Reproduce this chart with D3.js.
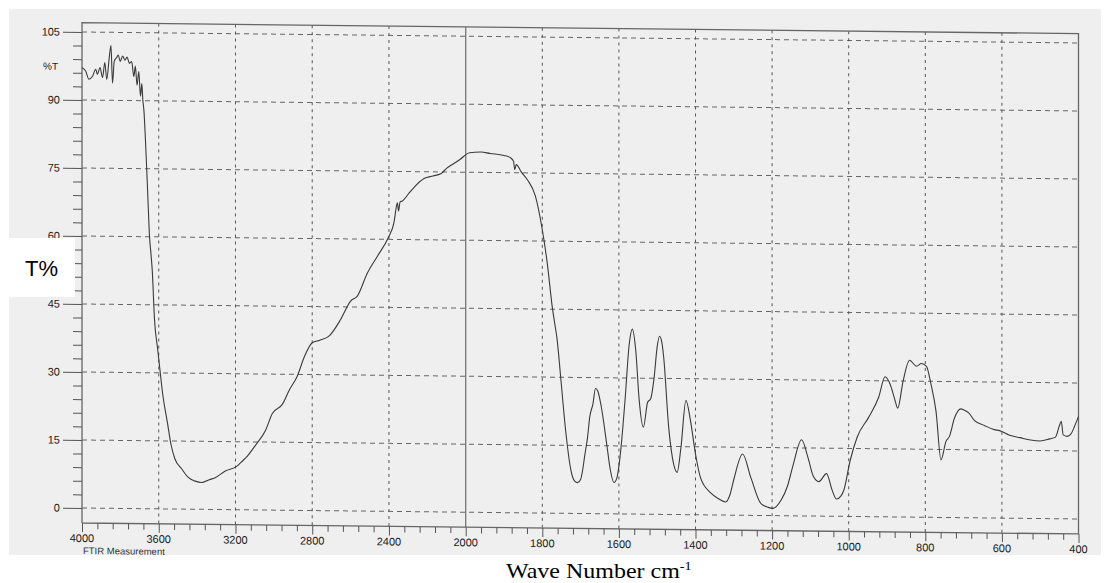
<!DOCTYPE html>
<html>
<head>
<meta charset="utf-8">
<script src="https://cdn.jsdelivr.net/npm/d3@7"></script>
<style>
  body { margin: 0; background: #fff; }
</style>
</head>
<body>
<script>
// FTIR spectrum (wavenumber cm-1, %T)
var wavenumbers = [
  4000, 3981, 3964, 3946, 3928, 3920, 3906, 3893, 3881, 3871, 3858, 3849, 3841, 3832, 3820, 3811,
  3801, 3788, 3776, 3765, 3753, 3741, 3730, 3722, 3713, 3704, 3695, 3688, 3683, 3677, 3670, 3665,
  3656, 3648, 3640, 3634, 3622, 3605, 3592, 3578, 3555, 3535, 3516, 3481, 3446, 3410, 3376, 3340,
  3306, 3253, 3192, 3170, 3139, 3095, 3043, 3008, 2955, 2920, 2878, 2840, 2800, 2760, 2713, 2652,
  2600, 2565, 2513, 2461, 2400, 2374, 2360, 2356, 2350, 2342, 2330, 2300, 2270, 2217, 2170, 2130,
  2100, 2065, 2030, 1990, 1960, 1936, 1900, 1883, 1875, 1872, 1868, 1855, 1839, 1818, 1800, 1787,
  1774, 1765, 1762, 1752, 1739, 1725, 1716, 1708, 1700, 1695, 1689, 1682, 1676, 1668, 1661, 1655,
  1646, 1632, 1622, 1613, 1605, 1597, 1584, 1573, 1565, 1556, 1547, 1536, 1525, 1517, 1508, 1500,
  1494, 1488, 1483, 1470, 1457, 1448, 1438, 1425, 1413, 1400, 1387, 1361, 1340, 1321, 1310, 1299,
  1277, 1255, 1229, 1210, 1198, 1176, 1160, 1146, 1123, 1107, 1092, 1078, 1058, 1043, 1032, 1020,
  1013, 996, 978, 948, 922, 905, 892, 880, 872, 858, 841, 823, 810, 797, 785, 772,
  759, 746, 737, 724, 707, 700, 686, 672, 646, 620, 606, 580, 553, 525, 500, 475,
  460, 450, 445, 440, 430, 420, 410, 400
]
var transmittance = [
  97.1, 96.4, 94.6, 95.2, 96.8, 95.7, 97.2, 95.0, 98.3, 94.6, 99.4, 102.1, 93.8, 98.6, 99.4, 100.0,
  98.6, 99.8, 98.9, 99.6, 98.2, 98.6, 95.3, 97.6, 93.4, 96.4, 91.0, 93.8, 90.2, 87.7, 82.0, 77.2,
  68.0, 60.0, 56.0, 52.7, 41.7, 35.0, 30.0, 24.9, 19.1, 14.0, 11.1, 8.9, 7.0, 6.2, 5.9, 6.5,
  7.0, 8.5, 9.6, 10.5, 11.8, 14.3, 17.6, 21.3, 23.4, 26.5, 29.6, 34.0, 37.0, 37.6, 38.5, 42.2,
  46.3, 47.4, 52.5, 56.2, 60.7, 63.7, 67.5, 68.1, 66.3, 68.3, 68.5, 70.0, 71.5, 73.5, 74.1, 74.6,
  75.8, 76.8, 77.8, 79.3, 79.5, 79.2, 78.8, 78.3, 77.5, 75.7, 76.8, 75.2, 73.5, 69.9, 62.5, 55.1,
  45.5, 40.5, 38.8, 30.0, 18.2, 9.4, 7.2, 6.8, 7.5, 9.4, 12.9, 16.7, 21.4, 24.1, 27.6, 27.0,
  23.6, 15.5, 9.5, 6.9, 8.0, 12.6, 25.1, 37.5, 40.8, 36.1, 25.1, 19.2, 24.7, 25.5, 30.2, 37.0,
  39.3, 38.0, 34.6, 19.2, 11.1, 9.3, 14.8, 25.2, 20.7, 13.4, 8.2, 4.9, 3.6, 2.9, 4.5, 8.2,
  13.5, 8.2, 2.6, 1.8, 1.6, 3.5, 6.5, 10.9, 16.8, 13.1, 8.7, 7.6, 9.4, 5.7, 3.8, 4.5,
  5.7, 12.4, 17.5, 21.9, 26.3, 30.9, 29.3, 26.0, 24.0, 30.0, 34.6, 33.3, 33.9, 33.3, 29.3, 23.4,
  12.7, 16.8, 17.9, 21.9, 24.0, 23.8, 23.1, 21.5, 20.4, 19.5, 19.3, 18.3, 17.8, 17.3, 17.1, 17.6,
  18.0, 20.5, 21.5, 18.5, 18.2, 18.7, 20.5, 22.6
]
var yTicks = [0, 15, 30, 45, 60, 75, 90, 105]
var xTicks = [4000, 3600, 3200, 2800, 2400, 2000, 1800, 1600, 1400, 1200, 1000, 800, 600, 400]
var xGrid = [3600, 3200, 2800, 2400, 1800, 1600, 1400, 1200, 1000, 800, 600]

var plotLeft = 82, plotRight = 1078.5, plotTop = 22.7, plotBottom = 523

// chart paper changes scale at 2000 cm-1
var x = d3.scaleLinear().domain([4000, 2000, 400]).range([plotLeft, 465.7, plotRight])
var y = d3.scaleLinear().domain([0, 105]).range([508, 32])

function createSVG() {
  mainSVG = d3.select('body').append('svg').attr('width', 1107).attr('height', 583)
  mainSVG.append('rect')
    .attr('x', 9).attr('y', 9).attr('width', 1092).attr('height', 546)
    .attr('fill', '#efefef')
  // the scan is slightly tilted
  chart = mainSVG.append('g').attr('transform', 'matrix(1,0.011,0,1,0,' + (-0.011 * plotLeft) + ')')
}

function createGrid() {
  chart.selectAll('line.hgrid').data(yTicks).enter().append('line')
    .attr('class', 'hgrid')
    .attr('x1', plotLeft).attr('x2', plotRight)
    .attr('y1', function(d) { return y(d) }).attr('y2', function(d) { return y(d) })
    .attr('stroke', '#666').attr('stroke-width', 1).attr('stroke-dasharray', '5,4')

  chart.selectAll('line.vgrid').data(xGrid).enter().append('line')
    .attr('class', 'vgrid')
    .attr('x1', function(d) { return x(d) }).attr('x2', function(d) { return x(d) })
    .attr('y1', plotTop).attr('y2', plotBottom)
    .attr('stroke', '#555').attr('stroke-width', 1).attr('stroke-dasharray', '3,4')

  chart.append('line')
    .attr('x1', x(2000)).attr('x2', x(2000)).attr('y1', plotTop).attr('y2', plotBottom)
    .attr('stroke', '#777').attr('stroke-width', 1.3)
}

function createFrame() {
  chart.append('path')
    .attr('d', 'M' + plotLeft + ',' + plotBottom + 'V' + plotTop + 'H' + plotRight + 'V' + plotBottom + 'H' + plotLeft)
    .attr('fill', 'none').attr('stroke', '#666').attr('stroke-width', 1.3)
}

function createAxes() {
  var yAxis = d3.axisLeft(y)
    .tickValues(d3.range(0, 106, 3))
    .tickSize(9)
    .tickFormat('')
  var gy = chart.append('g').attr('transform', 'translate(' + plotLeft + ',0)').call(yAxis)
  gy.select('.domain').remove()
  gy.selectAll('.tick line').attr('stroke', '#555')
    .attr('x2', function(d) { return d % 15 === 0 ? -19 : -9 })

  chart.selectAll('text.ylab').data(yTicks).enter().append('text')
    .attr('class', 'ylab')
    .attr('x', 60).attr('y', function(d) { return y(d) })
    .attr('dy', '0.35em').attr('text-anchor', 'end')
    .attr('font-family', 'Liberation Sans, Arial, sans-serif').attr('font-size', 11)
    .attr('fill', '#222')
    .text(function(d) { return d })

  chart.append('text')
    .attr('x', 43).attr('y', 70)
    .attr('font-family', 'Liberation Sans, Arial, sans-serif').attr('font-size', 10)
    .attr('fill', '#222').text('%T')

  var minor = d3.range(4000, 2000, -80).concat(d3.range(2000, 399, -40))
  var xAxis = d3.axisBottom(x).tickValues(minor).tickSize(8).tickFormat('')
  var gx = chart.append('g').attr('transform', 'translate(0,' + plotBottom + ')').call(xAxis)
  gx.select('.domain').remove()
  gx.selectAll('.tick line').attr('stroke', '#555')
    .attr('y2', function(d) { return xTicks.indexOf(d) >= 0 ? 9 : 6 })

  chart.selectAll('text.xlab').data(xTicks).enter().append('text')
    .attr('class', 'xlab')
    .attr('x', function(d) { return x(d) }).attr('y', plotBottom + 19)
    .attr('text-anchor', 'middle')
    .attr('font-family', 'Liberation Sans, Arial, sans-serif').attr('font-size', 11)
    .attr('fill', '#222')
    .text(function(d) { return d })

  chart.append('text')
    .attr('x', 83).attr('y', 554)
    .attr('font-family', 'Liberation Sans, Arial, sans-serif').attr('font-size', 9.5)
    .attr('fill', '#333').text('FTIR Measurement')
}

function createSpectrum() {
  var pts = wavenumbers.map(function(w, i) { return [w, transmittance[i]] })
  var line = d3.line()
    .x(function(d) { return x(d[0]) })
    .y(function(d) { return y(d[1]) })
    .curve(d3.curveMonotoneX)
  chart.append('path')
    .datum(pts)
    .attr('d', line)
    .attr('fill', 'none')
    .attr('stroke', '#3a3a3a')
    .attr('stroke-width', 1.1)
}

function createLabels() {
  mainSVG.append('rect')
    .attr('x', 8).attr('y', 238).attr('width', 67).attr('height', 59)
    .attr('fill', '#fff')
  mainSVG.append('text')
    .attr('x', 25).attr('y', 276)
    .attr('font-family', 'Liberation Sans, Arial, sans-serif').attr('font-size', 22)
    .attr('fill', '#000').text('T%')

  var t = mainSVG.append('text')
    .attr('transform', 'translate(506,578) scale(1.09,1)')
    .attr('font-family', 'Liberation Serif, Times New Roman, serif').attr('font-size', 22)
    .attr('fill', '#000')
  t.append('tspan').text('Wave Number cm')
  t.append('tspan').attr('dy', -8).attr('font-size', 13).text('-1')
}

createSVG()
createGrid()
createFrame()
createAxes()
createSpectrum()
createLabels()
</script>
</body>
</html>
